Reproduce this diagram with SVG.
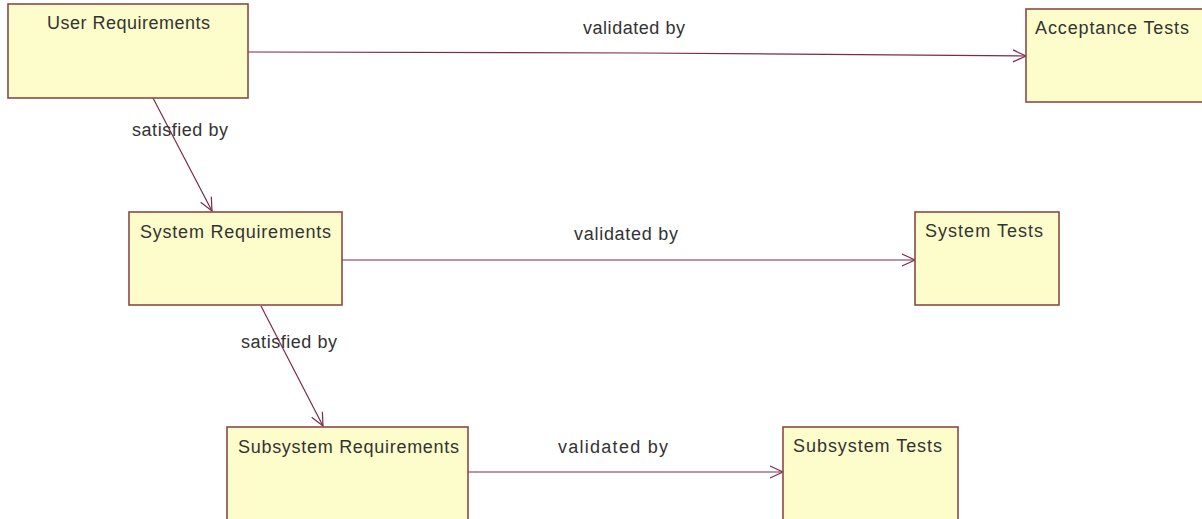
<svg xmlns="http://www.w3.org/2000/svg" width="1202" height="519" viewBox="0 0 1202 519">
<defs>
<marker id="open" markerWidth="16" markerHeight="14" refX="14" refY="7" orient="auto" markerUnits="userSpaceOnUse">
<path d="M1,1 L14,7 L1,13" fill="none" stroke="#7a2a4a" stroke-width="1.2"/>
</marker>
</defs>
<style>
.box{fill:#fdfccb;stroke:#8a4a44;stroke-width:1.6}
.t{font-family:"Liberation Sans",Arial,sans-serif;font-size:18px;fill:#333}
.c{fill:none;stroke:#7a2a4a;stroke-width:1.2;marker-end:url(#open)}
</style>
<rect width="1202" height="519" fill="#fff"/>
<g id="connectors">
<polyline class="c" points="248,52 638,53 1026,56"/>
<line class="c" x1="153" y1="98" x2="212" y2="211"/>
<line class="c" x1="342" y1="260" x2="915" y2="260"/>
<line class="c" x1="261" y1="306" x2="323" y2="426"/>
<line class="c" x1="468" y1="472" x2="783" y2="472"/>
<text class="t" x="583" y="34" textLength="102" lengthAdjust="spacing">validated by</text>
<text class="t" x="132" y="136" textLength="96" lengthAdjust="spacing">satisfied by</text>
<text class="t" x="574" y="240" textLength="104" lengthAdjust="spacing">validated by</text>
<text class="t" x="241" y="348" textLength="96" lengthAdjust="spacing">satisfied by</text>
<text class="t" x="558" y="453" textLength="110" lengthAdjust="spacing">validated by</text>
</g>
<g id="user-req">
<rect class="box" x="8" y="4" width="240" height="94"/>
<text class="t" x="47" y="29" textLength="163" lengthAdjust="spacing">User Requirements</text>
</g>
<g id="acceptance-tests">
<rect class="box" x="1026" y="9" width="190" height="93"/>
<text class="t" x="1035" y="34" textLength="154" lengthAdjust="spacing">Acceptance Tests</text>
</g>
<g id="system-req">
<rect class="box" x="129" y="212" width="213" height="93"/>
<text class="t" x="140" y="238" textLength="191" lengthAdjust="spacing">System Requirements</text>
</g>
<g id="system-tests">
<rect class="box" x="915" y="212" width="144" height="93"/>
<text class="t" x="925" y="237" textLength="118" lengthAdjust="spacing">System Tests</text>
</g>
<g id="subsystem-req">
<rect class="box" x="227" y="427" width="241" height="110"/>
<text class="t" x="238" y="453" textLength="221" lengthAdjust="spacing">Subsystem Requirements</text>
</g>
<g id="subsystem-tests">
<rect class="box" x="783" y="427" width="175" height="110"/>
<text class="t" x="793" y="452" textLength="149" lengthAdjust="spacing">Subsystem Tests</text>
</g>
</svg>
